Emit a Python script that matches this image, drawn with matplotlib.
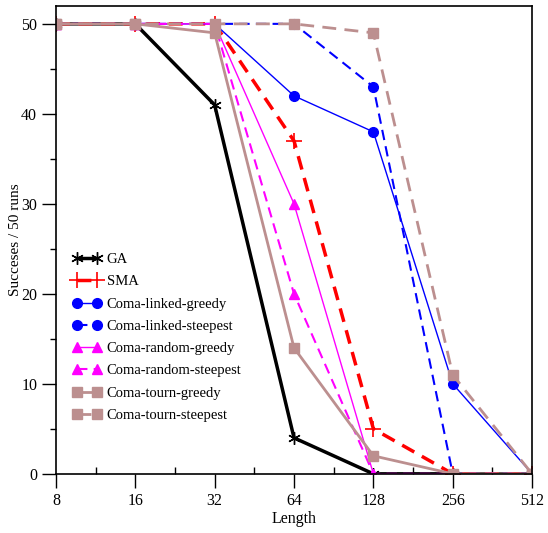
import matplotlib
matplotlib.use("Agg")
import matplotlib.pyplot as plt
from matplotlib.ticker import FixedLocator, NullFormatter

plt.rcParams['font.family'] = ['Liberation Serif', 'DejaVu Serif']

lengths = [8, 16, 32, 64, 128, 256, 512]
tick_labels = ['8', '16', '32', '64', '128', '256', '512']
ga = [50, 50, 41, 4, 0, 0, 0]
sma = [50, 50, 50, 37, 5, 0, 0]
linked_greedy = [50, 50, 50, 42, 38, 10, 0]
linked_steepest = [50, 50, 50, 50, 43, 0, 0]
random_greedy = [50, 50, 50, 30, 0, 0, 0]
random_steepest = [50, 50, 50, 20, 0, 0, 0]
tourn_greedy = [50, 50, 49, 14, 2, 0, 0]
tourn_steepest = [50, 50, 50, 50, 49, 11, 0]

fig = plt.figure(figsize=(5.48, 5.33), dpi=100)
ax = fig.add_axes([0.102, 0.111, 0.869, 0.878])
ax.set_xscale('log', base=2)

rb = '#bc8f8f'
ax.plot(lengths, ga, color='black', lw=2.5, marker=(6, 2, 0), ms=9, mew=1, label='GA')
ax.plot(lengths, sma, color='red', lw=2.5, ls=(0, (4, 2.5)), marker='+', ms=11, mew=1.2, label='SMA')
ax.plot(lengths, linked_greedy, color='blue', lw=1, marker='o', ms=7, label='Coma-linked-greedy')
ax.plot(lengths, linked_steepest, color='blue', lw=1.5, ls=(0, (5, 3)), marker='o', ms=7, label='Coma-linked-steepest')
ax.plot(lengths, random_greedy, color='magenta', lw=1, marker='^', ms=7, label='Coma-random-greedy')
ax.plot(lengths, random_steepest, color='magenta', lw=1.5, ls=(0, (5, 3)), marker='^', ms=7, label='Coma-random-steepest')
ax.plot(lengths, tourn_greedy, color=rb, lw=2, marker='s', ms=7, label='Coma-tourn-greedy')
ax.plot(lengths, tourn_steepest, color=rb, lw=2, ls=(0, (5, 3)), marker='s', ms=7, label='Coma-tourn-steepest')

ax.set_xlim(8, 512)
ax.set_ylim(0, 52)
ax.xaxis.set_major_locator(FixedLocator(lengths))
ax.set_xticklabels(tick_labels)
minors = [8 * 2 ** (k / 2) for k in range(1, 12, 2)]
ax.xaxis.set_minor_locator(FixedLocator(minors))
ax.xaxis.set_minor_formatter(NullFormatter())
ax.set_yticks([0, 10, 20, 30, 40, 50])
ax.set_yticks([5, 15, 25, 35, 45], minor=True)
ax.tick_params(axis='both', which='major', direction='out', length=10, labelsize=11.5, width=1)
ax.tick_params(axis='y', which='minor', direction='out', length=4, width=1)
ax.tick_params(axis='x', which='minor', direction='in', length=5, width=1)
for s in ax.spines.values():
    s.set_linewidth(1.2)

ax.set_xlabel('Length', fontsize=11.5, labelpad=2)
ax.set_ylabel('Succeses / 50 runs', fontsize=11, va='center', ha='center')
ax.yaxis.set_label_coords(-0.084, 0.5)

leg = ax.legend(loc='upper left', bbox_to_anchor=(0.007, 0.5), frameon=False, fontsize=10.5,
                handlelength=2.0, labelspacing=0.62, handletextpad=0.35, numpoints=2)

fig.savefig('out.png', dpi=100)
